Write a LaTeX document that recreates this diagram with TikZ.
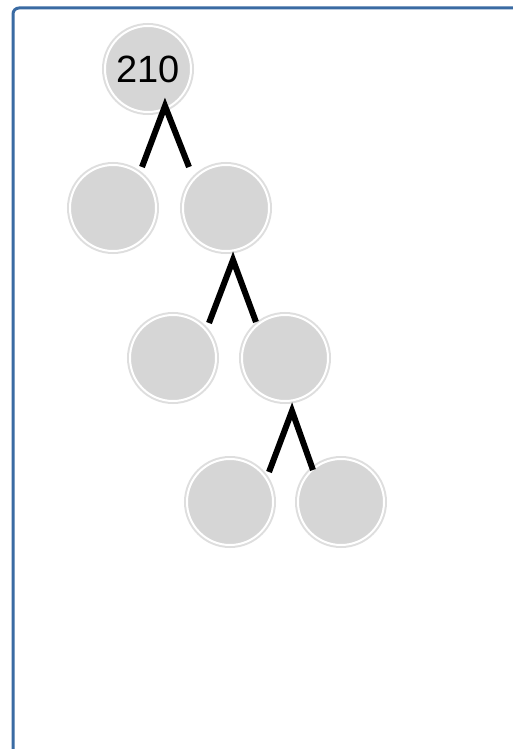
\documentclass[tikz,border=0pt]{standalone}
\usepackage{fontspec}
\newfontfamily\labfont{Liberation Sans}
\definecolor{nodefill}{HTML}{D6D6D6}
\definecolor{ringgray}{HTML}{DEDEDE}
\definecolor{frameblue}{HTML}{3A6BA3}
\begin{document}
\begin{tikzpicture}[x=1pt,y=-1pt,
  treenode/.style={circle, inner sep=0pt, minimum size=86pt, fill=nodefill,
    draw=white, line width=2pt,
    preaction={draw=ringgray, line width=6pt},
    font=\labfont\fontsize{38}{40}\selectfont},
  leg/.style={draw=black, line width=6pt, line cap=butt, line join=miter}]
\useasboundingbox (0,0) rectangle (512,749);
\fill[white] (0,0) rectangle (512,749);
\draw[frameblue, line width=3pt, rounded corners=6pt] (13,760) -- (13,8) -- (516,8);

\node[treenode] (root) at (148,69) {210};
\node[treenode] (l1a) at (113,208) {};
\node[treenode] (l1b) at (226,208) {};
\node[treenode] (l2a) at (173,358) {};
\node[treenode] (l2b) at (285,358) {};
\node[treenode] (l3a) at (230,502) {};
\node[treenode] (l3b) at (341,502) {};

\coordinate (r-apex) at (165,106);
\coordinate (r-left) at (142,167);
\coordinate (r-right) at (189,167);
\coordinate (b-apex) at (233,260);
\coordinate (b-left) at (209,323);
\coordinate (b-right) at (256,322);
\coordinate (c-apex) at (292,411);
\coordinate (c-left) at (269,472);
\coordinate (c-right) at (313,470);

\draw[leg] (r-left) -- (r-apex) -- (r-right);
\draw[leg] (b-left) -- (b-apex) -- (b-right);
\draw[leg] (c-left) -- (c-apex) -- (c-right);
\end{tikzpicture}
\end{document}
